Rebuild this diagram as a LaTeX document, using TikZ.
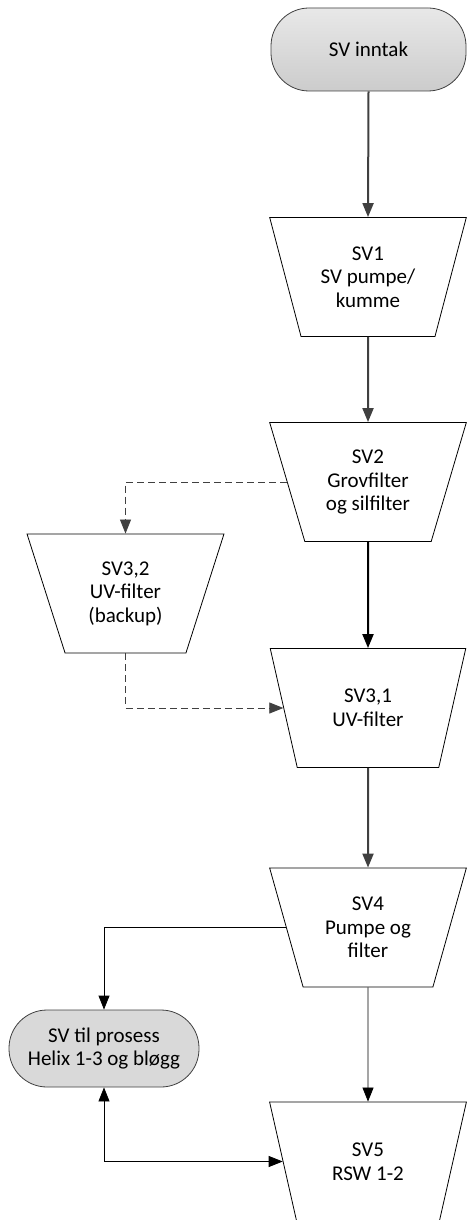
\documentclass[tikz,border=0pt]{standalone}
\usepackage{fontspec}
\setmainfont{Carlito}
\usetikzlibrary{shapes.geometric,arrows.meta}
\definecolor{dgray}{HTML}{404040}
\definecolor{tfill}{HTML}{D9D9D9}
\begin{document}
\begin{tikzpicture}[x=1pt,y=-1pt,
  every node/.style={font=\fontsize{21}{23.5}\selectfont, align=center},
  proc/.style={draw=black, line width=0.8pt, trapezium, trapezium left angle=110, trapezium right angle=110,
    trapezium stretches=true, minimum width=197pt, minimum height=119pt, inner sep=0pt},
  term/.style={draw=dgray, line width=0.8pt, fill=tfill, rectangle, rounded corners=38pt, inner sep=0pt},
  thick arrow/.style={draw=dgray, line width=2pt, -{Triangle[length=14pt,width=11pt]}},
  black arrow/.style={draw=black, line width=2pt, -{Triangle[length=14pt,width=11pt]}},
  dash arrow/.style={draw=dgray, line width=0.8pt, dash pattern=on 7pt off 4pt, -{Triangle[length=14pt,width=11pt]}},
  thin arrow/.style={draw=black, line width=0.8pt, -{Triangle[length=14pt,width=11pt]}},
]
\useasboundingbox (0,0) rectangle (466,1220);
\node[term, top color=gray!18, bottom color=gray!40, minimum width=195pt, minimum height=83pt] (inntak) at (368.5,49.5) {SV inntak};
\node[proc] (sv1) at (368,277) {SV1\\SV pumpe/\\kumme};
\node[proc] (sv2) at (368,482) {SV2\\Grovfilter\\og silfilter};
\node[proc] (sv32) at (125.5,593.5) {SV3,2\\UV-filter\\(backup)};
\node[proc] (sv31) at (368,708) {SV3,1\\UV-filter};
\node[proc] (sv4) at (368,927.5) {SV4\\Pumpe og\\filter};
\node[term, minimum width=190pt, minimum height=77pt] (prosess) at (104,1048.5) {SV til prosess\\Helix 1-3 og bløgg};
\node[proc] (sv5) at (368,1161.5) {SV5\\RSW 1-2};

\draw[thick arrow] (inntak.south) -- (sv1.north);
\draw[thick arrow] (sv1.south) -- (sv2.north);
\draw[black arrow] (sv2.south) -- (sv31.north);
\draw[thick arrow] (sv31.south) -- (sv4.north);
\draw[dash arrow] (sv2.west) -| (sv32.north);
\draw[dash arrow] (sv32.south) |- (sv31.west);
\draw[thin arrow] (sv4.west) -| (prosess.north);
\draw[thin arrow] (sv4.south) -- (sv5.north);
\draw[thin arrow, {Triangle[length=14pt,width=11pt]}-{Triangle[length=14pt,width=11pt]}] (prosess.south) |- (sv5.west);
\end{tikzpicture}
\end{document}
